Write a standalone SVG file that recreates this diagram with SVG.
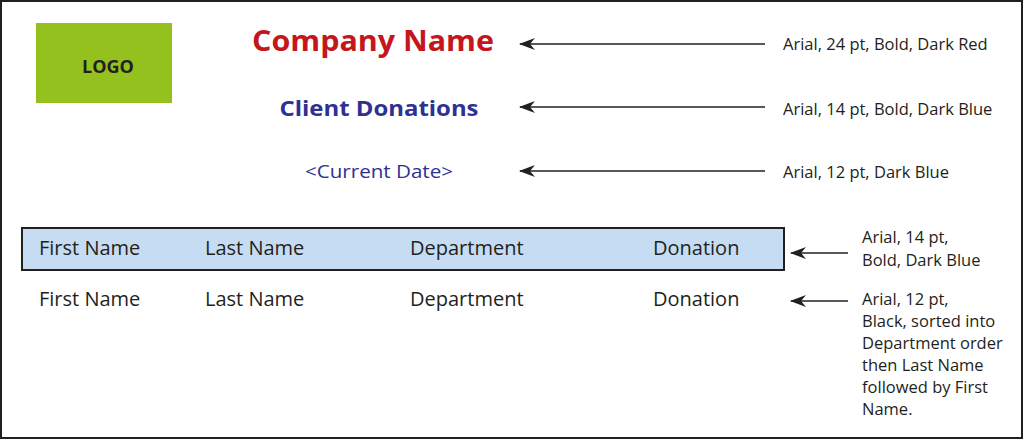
<svg xmlns="http://www.w3.org/2000/svg" width="1023" height="439" viewBox="0 0 1023 439">
<style>
text{font-family:"Open Sans","Noto Sans","Liberation Sans",sans-serif}
.n{font-size:16.5px;fill:#231f20}
.c{font-size:20px;fill:#231f20}
.a{stroke:#231f20;stroke-width:1.6;fill:none}
</style>
<defs><marker id="ah" markerWidth="16" markerHeight="12" refX="15" refY="6" orient="auto" markerUnits="userSpaceOnUse"><path d="M16,6 L0,0 L5,6 L0,12 Z" fill="#231f20"/></marker></defs>
<rect x="1" y="1" width="1021" height="437" fill="#fff" stroke="#231f20" stroke-width="2"/>
<g id="logo"><rect x="36" y="23" width="136" height="80" fill="#95c11f"/><text x="108" y="73" text-anchor="middle" font-size="18" font-weight="bold" fill="#231f20">LOGO</text></g>
<g id="company"><text x="373" y="51" text-anchor="middle" font-size="29" font-weight="bold" fill="#c4161c" textLength="242" lengthAdjust="spacingAndGlyphs">Company Name</text></g>
<g id="client"><text x="379" y="116" text-anchor="middle" font-size="22" font-weight="bold" fill="#2e3192" textLength="199" lengthAdjust="spacingAndGlyphs">Client Donations</text></g>
<g id="date"><text x="379" y="178" text-anchor="middle" font-size="19" fill="#2e3192" textLength="148" lengthAdjust="spacingAndGlyphs">&lt;Current Date&gt;</text></g>
<g id="header"><rect x="22" y="228" width="762" height="42" fill="#c5dcf3" stroke="#231f20" stroke-width="2"/>
<text class="c" x="39" y="255">First Name</text><text class="c" x="205" y="255">Last Name</text><text class="c" x="410" y="255">Department</text><text class="c" x="653" y="255">Donation</text></g>
<g id="row"><text class="c" x="39" y="306">First Name</text><text class="c" x="205" y="306">Last Name</text><text class="c" x="410" y="306">Department</text><text class="c" x="653" y="306">Donation</text></g>
<g id="notes">
<text class="n" x="783" y="50">Arial, 24 pt, Bold, Dark Red</text>
<text class="n" x="783" y="115">Arial, 14 pt, Bold, Dark Blue</text>
<text class="n" x="783" y="178">Arial, 12 pt, Dark Blue</text>
<text class="n" x="862" y="243">Arial, 14 pt,</text><text class="n" x="862" y="266">Bold, Dark Blue</text>
<text class="n" x="862" y="305">Arial, 12 pt,</text><text class="n" x="862" y="327">Black, sorted into</text><text class="n" x="862" y="349">Department order</text><text class="n" x="862" y="371">then Last Name</text><text class="n" x="862" y="393">followed by First</text><text class="n" x="862" y="415">Name.</text>
</g>
<g id="connectors">
<line class="a" x1="765" y1="44" x2="520" y2="44" marker-end="url(#ah)"/>
<line class="a" x1="765" y1="107" x2="520" y2="107" marker-end="url(#ah)"/>
<line class="a" x1="765" y1="171" x2="520" y2="171" marker-end="url(#ah)"/>
<line class="a" x1="848" y1="253" x2="791" y2="253" marker-end="url(#ah)"/>
<line class="a" x1="848" y1="301" x2="791" y2="301" marker-end="url(#ah)"/>
</g>
</svg>
